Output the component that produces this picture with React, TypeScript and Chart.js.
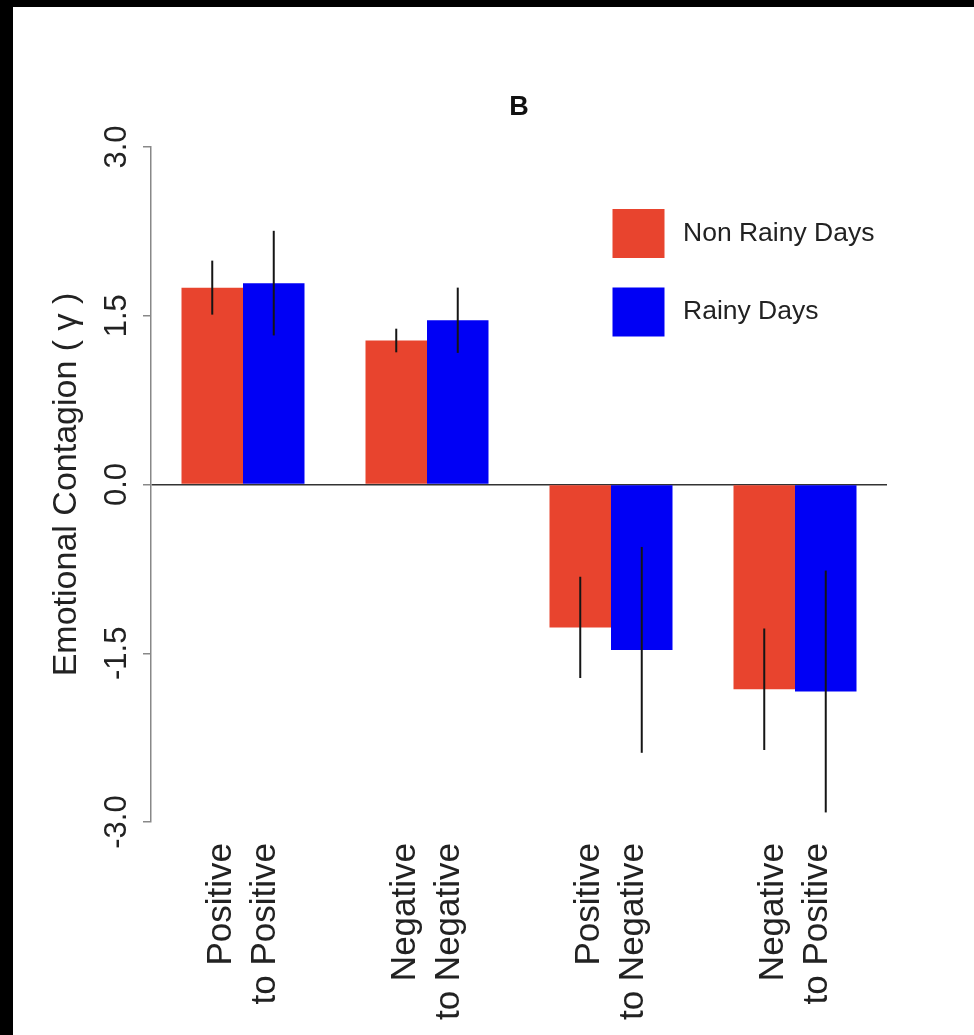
import React, { useEffect, useRef } from "react";
import { Chart, registerables } from "chart.js";

Chart.register(...registerables);

const categories: string[][] = [
  ["Positive", "to Positive"],
  ["Negative", "to Negative"],
  ["Positive", "to Negative"],
  ["Negative", "to Positive"],
];
const seriesNames = ["Non Rainy Days", "Rainy Days"];
const nonRainy = [1.75, 1.28, -1.27, -1.82];
const nonRainyErr = [0.24, 0.105, 0.45, 0.54];
const rainy = [1.79, 1.46, -1.47, -1.84];
const rainyErr = [0.465, 0.29, 0.915, 1.075];
const yTicks = [-3, -1.5, 0, 1.5, 3];
const chartTitle = "B";
const yTitle = "Emotional Contagion ( \u03B3 )";

const RED = "#E8442E";
const BLUE = "#0000F5";
const FONT = "'Liberation Sans', Arial, Helvetica, sans-serif";

const W = 961;
const H = 1028;

export default function App() {
  const ref = useRef<HTMLCanvasElement | null>(null);

  useEffect(() => {
    if (!ref.current) return;
    const errs = [nonRainyErr, rainyErr];

    const errorBars = {
      id: "errorBars",
      afterDatasetsDraw(chart: any) {
        const ctx = chart.ctx;
        const y = chart.scales.y;
        ctx.save();
        ctx.strokeStyle = "#151515";
        ctx.lineWidth = 2;
        chart.data.datasets.forEach((ds: any, di: number) => {
          const meta = chart.getDatasetMeta(di);
          meta.data.forEach((el: any, i: number) => {
            const v = ds.data[i];
            const e = errs[di][i];
            ctx.beginPath();
            ctx.moveTo(el.x, y.getPixelForValue(v + e));
            ctx.lineTo(el.x, y.getPixelForValue(v - e));
            ctx.stroke();
          });
        });
        ctx.restore();
      },
    };

    const titleAndLegend = {
      id: "titleAndLegend",
      afterDraw(chart: any) {
        const ctx = chart.ctx;
        const a = chart.chartArea;
        ctx.save();
        ctx.fillStyle = "#111";
        ctx.font = `bold 27px ${FONT}`;
        ctx.textAlign = "center";
        ctx.textBaseline = "middle";
        ctx.fillText(chartTitle, (a.left + a.right) / 2, 101);

        const bx = a.left + 461.5;
        const tops = [a.top + 62, a.top + 140.5];
        ctx.font = `26.5px ${FONT}`;
        ctx.textAlign = "left";
        chart.data.datasets.forEach((ds: any, i: number) => {
          ctx.fillStyle = ds.backgroundColor;
          ctx.fillRect(bx, tops[i], 52, 49);
          ctx.fillStyle = "#222";
          ctx.fillText(ds.label, bx + 70.5, tops[i] + 24.5);
        });
        ctx.restore();
      },
    };

    const chart = new Chart(ref.current, {
      type: "bar",
      data: {
        labels: categories,
        datasets: [
          { label: seriesNames[0], data: nonRainy, backgroundColor: RED, borderWidth: 0 },
          { label: seriesNames[1], data: rainy, backgroundColor: BLUE, borderWidth: 0 },
        ],
      },
      options: {
        responsive: false,
        animation: false,
        devicePixelRatio: 1,
        categoryPercentage: 123 / 184,
        barPercentage: 1,
        layout: { padding: { left: 0, top: 140, right: W - 874, bottom: 0 } },
        plugins: {
          legend: { display: false },
          title: { display: false },
          tooltip: { enabled: false },
        },
        scales: {
          x: {
            grid: { display: false, drawTicks: false },
            border: { display: false },
            afterFit: (s: any) => {
              s.height = H - 815;
            },
            ticks: {
              minRotation: 90,
              maxRotation: 90,
              padding: 21,
              labelOffset: -22,
              color: "#222",
              font: { family: FONT, size: 35, lineHeight: 1.27 },
              autoSkip: false,
            },
          },
          y: {
            min: -3,
            max: 3,
            afterFit: (s: any) => {
              s.width = 138;
            },
            afterBuildTicks: (s: any) => {
              s.ticks = yTicks.map((v) => ({ value: v }));
            },
            grid: {
              drawTicks: true,
              tickLength: 8,
              tickColor: "#888",
              tickWidth: 1.5,
              lineWidth: 1.5,
              color: (c: any) => (c.tick && c.tick.value === 0 ? "#333" : "rgba(0,0,0,0)"),
            },
            border: { display: true, color: "#888", width: 1.5 },
            ticks: {
              minRotation: 90,
              maxRotation: 90,
              crossAlign: "center",
              padding: -1,
              color: "#222",
              font: { family: FONT, size: 31 },
              callback: (v: any) => Number(v).toFixed(1),
            },
            title: {
              display: true,
              text: yTitle,
              color: "#222",
              font: { family: FONT, size: 34 },
              padding: { top: 33, bottom: 0 },
            },
          },
        },
      },
      plugins: [errorBars, titleAndLegend],
    } as any);

    return () => chart.destroy();
  }, []);

  return (
    <div
      style={{
        position: "fixed",
        left: 0,
        top: 0,
        width: 974,
        height: 1035,
        background: "#000",
      }}
    >
      <div
        style={{
          position: "absolute",
          left: 13,
          top: 7,
          width: W,
          height: H,
          background: "#fff",
        }}
      >
        <canvas ref={ref} width={W} height={H} style={{ display: "block" }} />
      </div>
    </div>
  );
}
